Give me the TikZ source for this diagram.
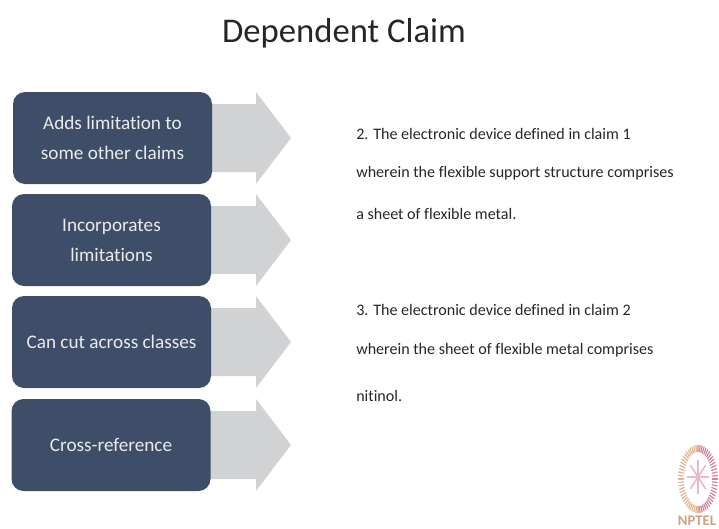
\documentclass[tikz,border=0pt]{standalone}
\usepackage{fontspec}
\setmainfont{Carlito}[Ligatures=NoCommon]
\usepackage{xcolor}
\definecolor{boxblue}{RGB}{62,78,104}
\definecolor{arrowgray}{RGB}{208,210,212}
\definecolor{logoorange}{RGB}{226,180,145}
\definecolor{logopink}{RGB}{212,130,150}
\tikzset{
  claimbox/.style={draw=none,fill=boxblue,rounded corners=9pt,minimum width=149.25pt,minimum height=69pt,
    inner sep=0pt,align=center,text=white!92!black,font=\fontsize{14.4}{22.5}\selectfont},
  claimtext/.style={anchor=west,inner sep=0pt,text=black!85,font=\fontsize{12.05}{14}\selectfont},
}
\begin{document}
\begin{tikzpicture}[x=0.75pt,y=0.75pt,yscale=-1,xscale=1]
    %set diagram size
    \useasboundingbox (0,0) rectangle (719,529);

    % Arrows
    \foreach \yc in {138,240,342,445}{
      \fill [arrowgray] (205,\yc-34) -- (256,\yc-34) -- (256,\yc-46) -- (291,\yc) -- (256,\yc+46) -- (256,\yc+34) -- (205,\yc+34) -- cycle ;
    }

    % Title
    \node (title) at (344,33) [inner sep=0pt,text=black!85,font=\fontsize{26}{32}\selectfont] {Dependent Claim};

    % Boxes
    \node (adds) at (112.5,138) [claimbox] {Adds limitation to\\some other claims};
    \node (incorporates) at (111.5,240) [claimbox] {Incorporates\\limitations};
    \node (cut) at (111.5,342) [claimbox] {Can cut across classes};
    \node (cross) at (111,445) [claimbox] {Cross-reference};

    % Claims
    \node (claimA) at (356,134) [claimtext] {2. The electronic device defined in claim 1};
    \node (claimB) at (356,173) [claimtext] {wherein the flexible support structure comprises};
    \node (claimC) at (356,214) [claimtext] {a sheet of flexible metal.};
    \node (claimD) at (356,310) [claimtext] {3. The electronic device defined in claim 2};
    \node (claimE) at (356,350) [claimtext] {wherein the sheet of flexible metal comprises};
    \node (claimF) at (356,396) [claimtext] {nitinol.};

    % Logo
    \foreach \a in {90,96,...,270}{
      \draw [logoorange,line width=0.9pt] (698,479)+(\a:14 and 27) -- ++(\a:20 and 34);
    }
    \foreach \a in {-84,-78,...,84}{
      \draw [logopink,line width=0.9pt] (698,479)+(\a:14 and 27) -- ++(\a:20 and 34);
    }
    \foreach \a in {0,45,...,315}{
      \draw [logopink!55,line width=1.2pt] (698,477) -- ++(\a:11 and 17);
    }
    \node (logotext) at (697,521) [inner sep=0pt,text=logoorange!90!black,font=\fontsize{11}{11}\selectfont\bfseries] {NPTEL};

\end{tikzpicture}
\end{document}
